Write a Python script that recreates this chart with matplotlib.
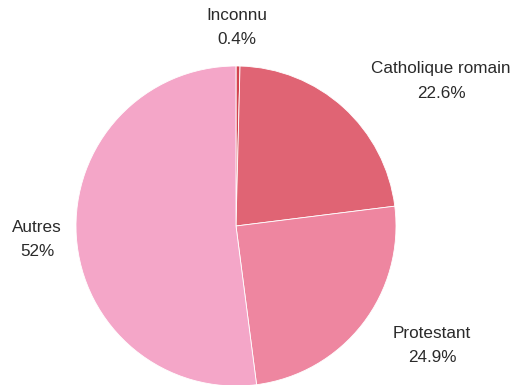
import matplotlib.pyplot as plt

plt.rcParams['font.family'] = ['Liberation Sans', 'DejaVu Sans']

# données
labels = ['Inconnu', 'Catholique romain', 'Protestant', 'Autres']
values = [0.4, 22.6, 24.9, 52]
pct_text = ['0.4%', '22.6%', '24.9%', '52%']
colors = ['#d3424e', '#e06474', '#ee86a0', '#f4a6c8']

fig = plt.figure(figsize=(5.16, 3.85), dpi=100)
ax = fig.add_axes([0, 0, 1, 1])

ax.pie(values, colors=colors, startangle=90, counterclock=False,
       radius=160, center=(236, 159), frame=True,
       wedgeprops=dict(edgecolor='white', linewidth=0.6))
ax.set_xlim(0, 516)
ax.set_ylim(0, 385)
ax.set_aspect('equal')
ax.axis('off')

# positions des étiquettes (pixels)
label_pos = [(237, 357), (441, 304), (432, 40), (37, 145)]
for lab, pct, (x, y) in zip(labels, pct_text, label_pos):
    ax.text(x, y, lab + '\n' + pct, ha='center', va='center',
            fontsize=12.3, color='#2a2a2a', linespacing=1.75)

fig.savefig('out.png', dpi=100)
